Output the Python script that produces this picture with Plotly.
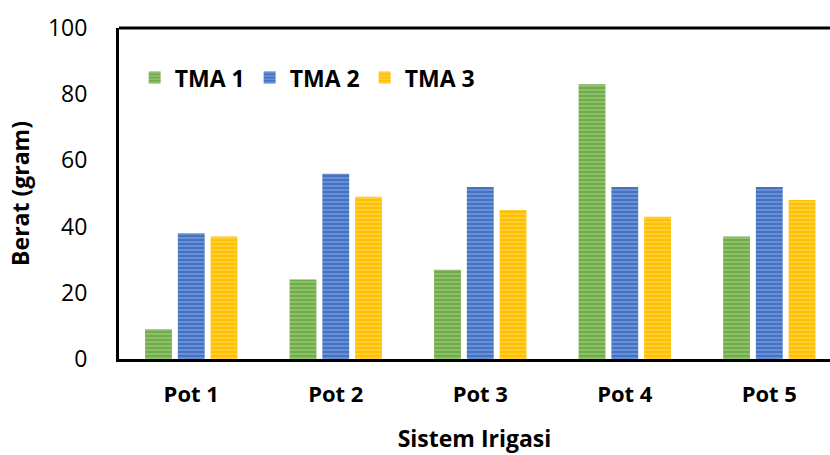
import plotly.graph_objects as go

categories = ["Pot 1", "Pot 2", "Pot 3", "Pot 4", "Pot 5"]
tma1 = [9, 24, 27, 83, 37]
tma2 = [38, 56, 52, 52, 52]
tma3 = [37, 49, 45, 43, 48]
series_names = ["TMA 1", "TMA 2", "TMA 3"]
y_ticks = [0, 20, 40, 60, 80, 100]

colors = ["#70AD47", "#4472C4", "#FFC000"]
stripes = ["#C5E0B4", "#B4C7E7", "#FFE699"]

fig = go.Figure()
for name, vals, c, s in zip(series_names, [tma1, tma2, tma3], colors, stripes):
    fig.add_trace(go.Bar(
        x=categories, y=vals, name=name,
        marker=dict(color=c, line=dict(width=0),
                    pattern=dict(shape="-", fgcolor=s, bgcolor=c,
                                 size=4, solidity=0.35, fillmode="overlay")),
    ))

font_family = "Open Sans, Lato, sans-serif"
fs = 23
fig.update_layout(
    width=830, height=455,
    margin=dict(l=119, r=0, t=28, b=96),
    paper_bgcolor="white", plot_bgcolor="white",
    barmode="group", bargap=0.32, bargroupgap=0.18,
    font=dict(family=font_family, color="#000000", size=fs),
    showlegend=True,
    legend=dict(orientation="h", x=0.022, y=0.915, xanchor="left", yanchor="top",
                font=dict(size=fs, family=font_family, weight="bold"),
                bgcolor="rgba(0,0,0,0)", itemwidth=30, tracegroupgap=0),
    xaxis=dict(range=[-0.5, 4.42], showline=True, linecolor="black", linewidth=3,
               ticks="", ticklabelstandoff=14, tickfont=dict(size=fs - 1, weight="bold"),
               title=dict(text="Sistem Irigasi", font=dict(size=fs, weight="bold"), standoff=24),
               showgrid=False, zeroline=False),
    yaxis=dict(range=[0, 100], tickvals=y_ticks, showline=True, linecolor="black",
               linewidth=3, ticks="", ticklabelstandoff=24, tickfont=dict(size=fs),
               title=dict(text="Berat (gram)", font=dict(size=fs, weight="bold"), standoff=12),
               showgrid=False, zeroline=False),
)
# top border of the plot frame
fig.add_shape(type="line", xref="paper", yref="paper", x0=0, x1=1, y0=1, y1=1,
              line=dict(color="black", width=3))

fig.write_html("out.html")
